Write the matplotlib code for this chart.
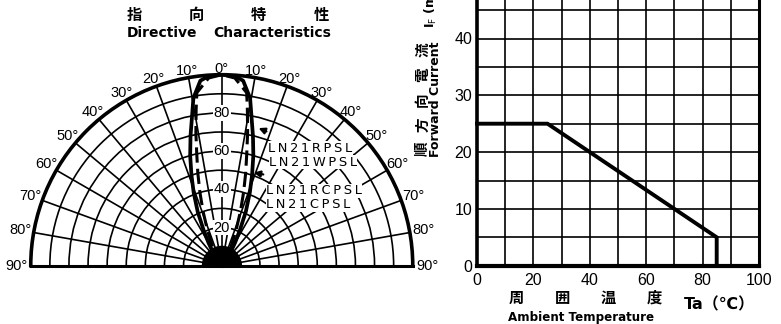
import numpy as np
import matplotlib
matplotlib.use("Agg")
import matplotlib.pyplot as plt

W, H, DPI = 781, 324, 100

# ---------------- data ----------------
# Directive characteristics: relative intensity (%) vs. angle (deg), symmetric
solid_angles = [0, 4, 6.6, 9.6, 11.2, 13.5, 16, 18.5, 21, 24, 27, 30, 35, 40, 50]
solid_values = [100, 99.5, 97.5, 89, 80, 70, 60, 50, 41, 31, 21, 14, 7, 3, 0]
dash_angles = [0, 4, 8.2, 9.3, 11, 12.6, 14.5, 16.6, 19, 22, 26, 30, 35, 45]
dash_values = [100, 98.5, 91.5, 83, 71, 60, 50, 40, 30, 20, 11, 6, 3, 0]
angle_ticks = list(range(-90, 91, 10))
radial_grid = list(range(10, 100, 10))
radial_labels = [20, 40, 60, 80]
solid_names = ["LN21RPSL", "LN21WPSL"]
dash_names = ["LN21RCPSL", "LN21CPSL"]

# Forward current derating
ambient_temp = [0, 25, 85, 85]
forward_current = [25, 25, 5, 0]
x_major = [0, 20, 40, 60, 80, 100]
x_tick_labels = ["0", "20", "40", "60", "80", "100"]
y_major = [0, 10, 20, 30, 40]
y_tick_labels = ["0", "10", "20", "30", "40"]

title_cjk = "指向特性"
title_en = ("Directive", "Characteristics")
ylabel_cjk = "順方向電流"
ylabel_en = "Forward Current"
xlabel_cjk = "周囲温度"
xlabel_en = "Ambient Temperature"

CJK = "Noto Sans CJK JP"
NUM = "Liberation Sans"

fig = plt.figure(figsize=(W / DPI, H / DPI), dpi=DPI)
fig.patch.set_facecolor("white")


def fx(x):
    return x / W


def fy(y):
    return 1 - y / H


# ---------------- polar chart ----------------
R = 191.0
cx, cy = 221.75, 265.7
axp = fig.add_axes([fx(cx - R), (H - cy - R / 2) / H, 2 * R / W, 2 * R / H],
                   projection="polar")
axp.set_theta_zero_location("N")
axp.set_theta_direction(-1)
axp.set_thetamin(-90)
axp.set_thetamax(90)
axp.set_ylim(0, 100)
axp.set_thetagrids(angle_ticks, labels=[""] * len(angle_ticks))
axp.set_rgrids(radial_grid, labels=[""] * len(radial_grid))
axp.grid(True, color="black", lw=1.2)
axp.tick_params(length=0)
axp.spines["polar"].set_linewidth(2.6)
axp.spines["start"].set_linewidth(2.2)
axp.spines["end"].set_linewidth(2.2)
axp.spines["inner"].set_visible(False)


def sym(angles, vals):
    a = np.array(angles, float)
    v = np.array(vals, float)
    th = np.deg2rad(np.concatenate([-a[::-1], a[1:]]))
    rr = np.concatenate([v[::-1], v[1:]])
    return th, rr


th, rr = sym(solid_angles, solid_values)
axp.plot(th, rr, color="black", lw=2.7, zorder=4)
th, rr = sym(dash_angles, dash_values)
axp.plot(th, rr, color="black", lw=2.2, ls=(0, (5, 2)), zorder=4)

# dark hub where all the grid rays converge
hub = np.linspace(-np.pi / 2, np.pi / 2, 60)
axp.fill_between(hub, 0, 10, color="black", zorder=3)

for a in angle_ticks:
    rl = 103 + 4.5 * abs(a) / 90
    axp.text(np.deg2rad(a), rl, f"{abs(a)}°", ha="center", va="center",
             fontsize=10.5, family=NUM, color="black", zorder=6)

for v in radial_labels:
    axp.text(0, v, str(v), ha="center", va="center", fontsize=10.5, family=NUM,
             zorder=6, bbox=dict(fc="white", ec="none", pad=0.6))

sp = "\u2009"
name_pos = [(268, 148), (269, 162), (266, 191), (266, 205)]
for name, (x, y) in zip(solid_names + dash_names, name_pos):
    fig.text(fx(x), fy(y), sp.join(name), ha="left", va="center", fontsize=9.4,
             family="DejaVu Sans", zorder=7,
             bbox=dict(fc="white", ec="none", pad=0.3))

for (x0, y0), (x1, y1) in [((269, 132.5), (256, 127)), ((266, 175), (251, 172))]:
    fig.add_artist(matplotlib.patches.FancyArrowPatch(
        (fx(x0), fy(y0)), (fx(x1), fy(y1)), transform=fig.transFigure,
        arrowstyle="-|>", mutation_scale=9, color="black", lw=1.6, zorder=8))

# titles
for i, ch in enumerate(title_cjk):
    fig.text(fx(134 + i * 62.3), fy(15), ch, ha="center", va="center",
             fontsize=11, family=CJK, weight="bold")
fig.text(fx(127), fy(33), title_en[0], ha="left", va="center", fontsize=10,
         family="DejaVu Sans", weight="bold")
fig.text(fx(331), fy(33), title_en[1], ha="right", va="center", fontsize=10,
         family="DejaVu Sans", weight="bold")

# ---------------- derating chart ----------------
x0p, x1p, y0p = 477, 759, 265.7
ppu = 5.68
ax = fig.add_axes([fx(x0p), (H - y0p) / H, (x1p - x0p) / W, 50 * ppu / H])
ax.set_xlim(0, 100)
ax.set_ylim(0, 50)
ax.set_xticks(x_major, x_tick_labels)
ax.set_xticks(np.arange(0, 101, 10), minor=True)
ax.set_yticks(y_major, y_tick_labels)
ax.set_yticks(np.arange(0, 51, 5), minor=True)
ax.grid(True, which="both", color="black", lw=1.2)
ax.tick_params(which="both", length=0)
ax.tick_params(axis="x", pad=5, labelsize=11.5)
ax.tick_params(axis="y", pad=3.5, labelsize=11.5)
for lab in ax.get_xticklabels() + ax.get_yticklabels():
    lab.set_family(NUM)
ax.spines["top"].set_visible(False)
ax.spines["left"].set_linewidth(2.6)
ax.spines["bottom"].set_linewidth(3.0)
ax.spines["right"].set_linewidth(2.2)
ax.plot(ambient_temp, forward_current, color="black", lw=2.8, zorder=4,
        solid_joinstyle="miter", clip_on=False)

# axis labels
for i, ch in enumerate(ylabel_cjk):
    fig.text(fx(422), fy(149 - i * 24.8), ch, rotation=90, ha="center",
             va="center", fontsize=10.5, family=CJK, weight="bold")
fig.text(fx(435.5), fy(99.5), ylabel_en, rotation=90, ha="center", va="center",
         fontsize=9, family="DejaVu Sans", weight="bold")
fig.text(fx(431), fy(28), r"I$_{\rm F}$ (mA)", rotation=90, ha="center",
         va="bottom", fontsize=9, family="DejaVu Sans", weight="bold")

for i, ch in enumerate(xlabel_cjk):
    fig.text(fx(516 + i * 46), fy(298), ch, ha="center", va="center",
             fontsize=11, family=CJK, weight="bold")
fig.text(fx(581), fy(317), xlabel_en, ha="center", va="center", fontsize=8.6,
         family="DejaVu Sans", weight="bold")
fig.text(fx(719), fy(305), "Ta（℃）", ha="center", va="center", fontsize=11.5,
         family=["DejaVu Sans", CJK], weight="bold")

fig.savefig("out.png", dpi=DPI, facecolor="white")
